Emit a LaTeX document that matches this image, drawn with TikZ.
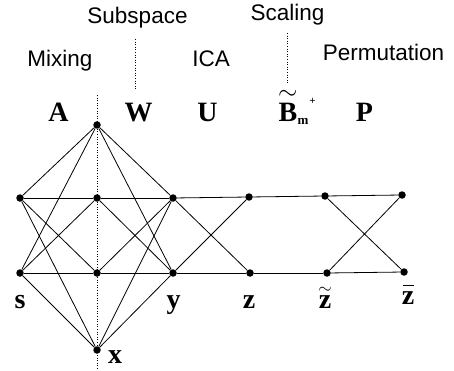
\documentclass[tikz,border=0pt]{standalone}
\usepackage{fontspec}
\setmainfont{Liberation Serif}
\setsansfont{Liberation Sans}
\newcommand{\mytil}[3]{\vbox{\offinterlineskip\halign{\hfil##\hfil\cr\fontsize{#1}{#1}\selectfont$\sim$\cr\noalign{\vskip #2}#3\cr}}}
\newcommand{\mybar}[3]{\vbox{\offinterlineskip\halign{\hfil##\hfil\cr\vrule width #1 height 1.6pt depth 0pt\cr\noalign{\vskip #2}#3\cr}}}
\begin{document}
\begin{tikzpicture}[x=1pt,y=-1pt]
\tikzset{
 dot/.style={circle,fill=black,inner sep=0pt,minimum size=7.5pt},
 edge/.style={line width=0.8pt},
 lab/.style={font=\fontsize{22.5}{27}\selectfont\sffamily, anchor=base, inner sep=0pt},
 sym/.style={font=\fontsize{28}{32}\selectfont\bfseries, anchor=base, inner sep=0pt},
 guide/.style={dotted, line width=0.6pt}
}
\useasboundingbox (0,0) rectangle (454,371);
% guides
\coordinate (g1a) at (97,95);
\coordinate (g1b) at (97,371);
\coordinate (g2a) at (135,39);
\coordinate (g2b) at (135,89);
\coordinate (g3a) at (287,33);
\coordinate (g3b) at (287,83);
\draw[guide] (g1a) -- (g1b);
\draw[guide] (g2a) -- (g2b);
\draw[guide] (g3a) -- (g3b);
% nodes
\node[dot] (s1) at (20,198) {};
\node[dot] (s2) at (20,273) {};
\node[dot] (x0) at (97,125) {};
\node[dot] (x1) at (97,198) {};
\node[dot] (x2) at (97,273) {};
\node[dot] (x3) at (97,350) {};
\node[dot] (y1) at (173,198) {};
\node[dot] (y2) at (173,273) {};
\node[dot] (z1) at (249,197) {};
\node[dot] (z2) at (250,273) {};
\node[dot] (t1) at (325,196) {};
\node[dot] (t2) at (327,273) {};
\node[dot] (b1) at (402,195) {};
\node[dot] (b2) at (404,272) {};
% edges
\foreach \a in {s1,s2,y1,y2}{
  \foreach \b in {x0,x1,x2,x3}{
    \draw[edge] (\a) -- (\b);
  }
}
\draw[edge] (y1) -- (z1);
\draw[edge] (y2) -- (z2);
\draw[edge] (y1) -- (z2);
\draw[edge] (y2) -- (z1);
\draw[edge] (z1) -- (t1);
\draw[edge] (z2) -- (t2);
\draw[edge] (t1) -- (b1);
\draw[edge] (t2) -- (b2);
\draw[edge] (t1) -- (b2);
\draw[edge] (t2) -- (b1);
% stage labels
\node[lab] (lsub) at (137.5,24) {Subspace};
\node[lab] (lsca) at (287.5,21) {Scaling};
\node[lab] (lmix) at (60,67) {Mixing};
\node[lab] (lica) at (211,67) {ICA};
\node[lab] (lper) at (383.5,61) {Permutation};
% matrices
\node[sym] (mA) at (58.5,122) {A};
\node[sym] (mW) at (138.5,122) {W};
\node[sym] (mU) at (207.5,122) {U};
\node[sym,anchor=base west] (mB) at (278,122) {\mytil{24}{4pt}{B}\raisebox{-3pt}{\fontsize{13}{14}\selectfont\bfseries m}\kern1pt\raisebox{17pt}{\fontsize{11}{11}\selectfont\bfseries +}};
\node[sym] (mP) at (364.5,122) {P};
% variable labels
\node[sym] (ls) at (20,308) {s};
\node[sym] (ly) at (173.5,308) {y};
\node[sym] (lz) at (249,308) {z};
\node[sym] (lzt) at (325,308) {\mytil{18}{2pt}{z}};
\node[sym] (lzb) at (408,304) {\mybar{11pt}{5pt}{z}};
\node[sym] (lx) at (115,363) {x};
\end{tikzpicture}
\end{document}
